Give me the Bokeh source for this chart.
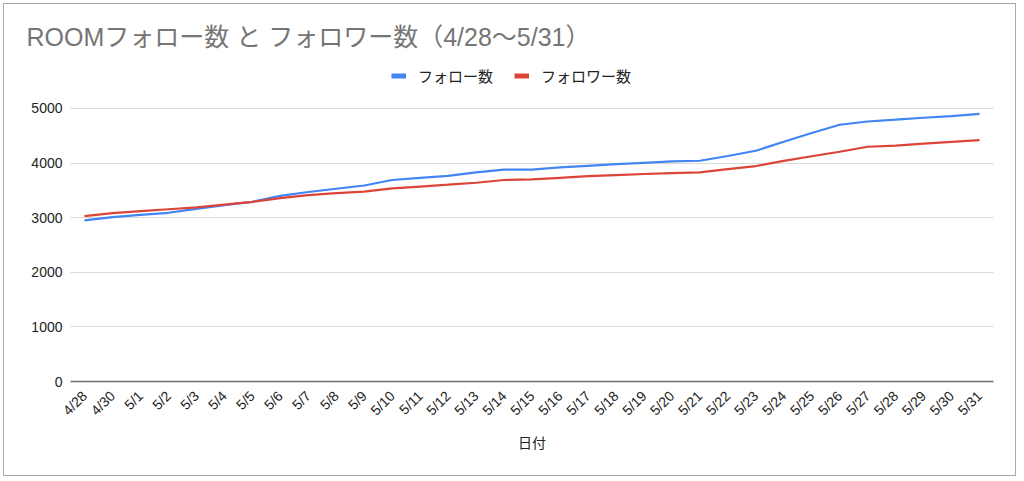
import math
from bokeh.plotting import figure
from bokeh.models import FactorRange, Range1d, FixedTicker, Legend, LegendItem, ColumnDataSource
from bokeh.embed import file_html
from bokeh.resources import INLINE

dates = ["4/28", "4/30", "5/1", "5/2", "5/3", "5/4", "5/5", "5/6", "5/7", "5/8",
         "5/9", "5/10", "5/11", "5/12", "5/13", "5/14", "5/15", "5/16", "5/17", "5/18",
         "5/19", "5/20", "5/21", "5/22", "5/23", "5/24", "5/25", "5/26", "5/27", "5/28",
         "5/29", "5/30", "5/31"]

follow = [2950, 3010, 3050, 3090, 3160, 3230, 3290, 3400, 3470, 3530,
          3590, 3690, 3730, 3765, 3830, 3880, 3880, 3920, 3950, 3980,
          4005, 4030, 4043, 4130, 4226, 4390, 4550, 4702, 4762, 4795,
          4830, 4860, 4903]

follower = [3030, 3085, 3120, 3155, 3190, 3240, 3290, 3360, 3415, 3450,
            3476, 3537, 3570, 3604, 3640, 3690, 3700, 3730, 3760, 3780,
            3800, 3815, 3829, 3890, 3946, 4040, 4125, 4208, 4299, 4320,
            4355, 4390, 4422]

y_ticks = [0, 1000, 2000, 3000, 4000, 5000]

series_names = ["フォロー数", "フォロワー数"]
colors = ["#4285F4", "#DB4437"]

title_text = "ROOMフォロー数 と フォロワー数（4/28〜5/31）"
x_label = "日付"

FONT = "'Liberation Sans', 'Noto Sans CJK JP', sans-serif"

src = ColumnDataSource(data=dict(date=dates, follow=follow, follower=follower))

# frame spans from above the 5000 line so the legend (drawn inside the frame) is visible
p = figure(width=1013, height=473, output_backend="svg", toolbar_location=None,
           x_range=FactorRange(factors=dates, range_padding=0),
           y_range=Range1d(0, 6062),
           min_border_left=66, min_border_right=24, min_border_top=46, min_border_bottom=96)
p.margin = (3, 0, 0, 3)
p.styles = {"border": "1px solid #a8a8a8"}

p.title.text = title_text
p.title.text_font = FONT
p.title.text_font_size = "25px"
p.title.text_font_style = "normal"
p.title.text_color = "#757575"
p.title.align = "left"
p.title.offset = -44
p.title.standoff = 0

l1 = p.line(x="date", y="follow", source=src, line_color=colors[0], line_width=2.2)
l2 = p.line(x="date", y="follower", source=src, line_color=colors[1], line_width=2.2)

# thicker swatches for the legend (hidden renderers, only used by the legend)
s1 = p.line(x="date", y="follow", source=src, line_color=colors[0], line_width=5, visible=False)
s2 = p.line(x="date", y="follower", source=src, line_color=colors[1], line_width=5, visible=False)

legend = Legend(items=[LegendItem(label=series_names[0], renderers=[s1]),
                       LegendItem(label=series_names[1], renderers=[s2])],
                orientation="horizontal", location=(321, 295),
                label_text_font=FONT, label_text_font_size="15px", label_text_color="#222222",
                glyph_width=15, glyph_height=15, label_standoff=12, spacing=21,
                padding=4, margin=0, border_line_color=None, background_fill_alpha=0,
                click_policy="none")
p.add_layout(legend)

p.outline_line_color = None
p.xgrid.grid_line_color = None
p.ygrid.grid_line_color = "#dadada"
p.ygrid.grid_line_width = 1

p.yaxis.ticker = FixedTicker(ticks=y_ticks)
p.yaxis.axis_line_color = None
p.yaxis.major_tick_line_color = None
p.yaxis.minor_tick_line_color = None
p.yaxis.major_label_text_font = FONT
p.yaxis.major_label_text_font_size = "14px"
p.yaxis.major_label_text_color = "#222222"
p.yaxis.major_label_standoff = 2

p.xaxis.axis_line_color = "#6e6e6e"
p.xaxis.axis_line_width = 1.5
p.xaxis.major_tick_line_color = None
p.xaxis.minor_tick_line_color = None
p.xaxis.major_label_orientation = math.pi / 4
p.xaxis.major_label_text_font = FONT
p.xaxis.major_label_text_font_size = "14px"
p.xaxis.major_label_text_color = "#222222"
p.xaxis.major_label_standoff = 6
p.xaxis.axis_label = x_label
p.xaxis.axis_label_text_font = FONT
p.xaxis.axis_label_text_font_size = "14px"
p.xaxis.axis_label_text_font_style = "normal"
p.xaxis.axis_label_text_color = "#222222"
p.xaxis.axis_label_standoff = 8

open("out.html", "w").write(file_html(p, INLINE))
